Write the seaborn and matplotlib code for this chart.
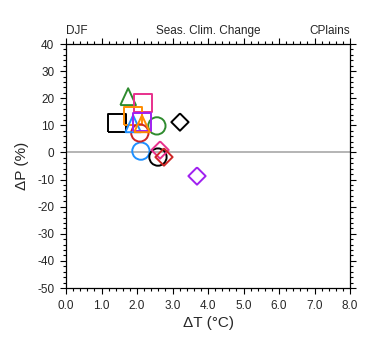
import numpy as np
import pandas as pd
import matplotlib
matplotlib.use("Agg")
import matplotlib.pyplot as plt
import seaborn as sns
from matplotlib.ticker import MultipleLocator, FormatStrFormatter

# one point per model: seasonal change in temperature and precipitation
models = ["m01", "m02", "m03", "m04", "m05", "m06", "m07", "m08",
          "m09", "m10", "m11", "m12", "m13", "m14", "m15"]
dT = [1.44, 1.75, 2.17, 1.89, 2.11, 2.59, 2.56, 2.08, 1.89, 2.14,
      2.14, 3.21, 2.65, 2.76, 3.69]
dP = [10.9, 20.5, 18.2, 13.4, 0.5, -1.7, 9.8, 7.2, 10.5, 11.2,
      10.5, 11.2, 0.9, -1.7, -8.7]
colors = ["black", "#2E8B2E", "#E8308C", "#FF8C00", "#1E90FF", "black",
          "#2E8B2E", "#CD2626", "#1E90FF", "#A020F0", "#FF8C00", "black",
          "#E8308C", "#CD2626", "#A020F0"]
shapes = ["square", "triangle", "square", "square", "circle", "circle",
          "circle", "circle", "triangle", "square", "triangle", "diamond",
          "diamond", "diamond", "diamond"]

# closed outlines (first vertex repeated so the stroke closes)
marker_paths = {
    "square": [(-1, -1), (1, -1), (1, 1), (-1, 1), (-1, -1)],
    "triangle": [(-0.9, -0.95), (0.9, -0.95), (0, 1), (-0.9, -0.95)],
    "diamond": [(0, 1), (1, 0), (0, -1), (-1, 0), (0, 1)],
    "circle": "o",
}

df = pd.DataFrame({"model": models, "dT": dT, "dP": dP, "shape": shapes})

sns.set_style("ticks")
plt.rcParams["font.family"] = ["Liberation Sans", "DejaVu Sans"]
plt.rcParams["axes.unicode_minus"] = False

fig = plt.figure(figsize=(3.8, 3.55), dpi=100)
ax = fig.add_axes([0.1737, 0.1887, 0.7474, 0.6873])

ax.axhline(0, color="#A8A8A8", lw=1.2, zorder=1)

sns.scatterplot(data=df, x="dT", y="dP", hue="model", style="model",
                palette=dict(zip(models, colors)),
                markers=dict(zip(models, [marker_paths[s] for s in shapes])),
                s=155, linewidth=1.4, legend=False, ax=ax, zorder=3)

# hollow markers: move the colour from the face to the edge
pts = ax.collections[-1]
fc = pts.get_facecolors()
pts.set_edgecolors(fc)
pts.set_facecolors("none")

ax.set_xlim(0, 8)
ax.set_ylim(-50, 40)
ax.xaxis.set_major_locator(MultipleLocator(1))
ax.xaxis.set_minor_locator(MultipleLocator(0.2))
ax.yaxis.set_major_locator(MultipleLocator(10))
ax.yaxis.set_minor_locator(MultipleLocator(2))
ax.xaxis.set_major_formatter(FormatStrFormatter("%.1f"))

ax.tick_params(which="both", direction="out", top=True, right=True,
               labeltop=False, labelright=False, color="black", width=0.8)
ax.tick_params(which="major", length=4.5, labelsize=8.5, pad=4)
ax.tick_params(which="minor", length=2.3)
for sp in ax.spines.values():
    sp.set_visible(True)
    sp.set_linewidth(0.9)
    sp.set_color("black")

ax.set_xlabel("ΔT (°C)", fontsize=11, labelpad=3)
ax.set_ylabel("ΔP (%)", fontsize=11, labelpad=6)

ax.set_title("DJF", loc="left", fontsize=8.5, pad=7)
ax.set_title("Seas. Clim. Change", loc="center", fontsize=8.5, pad=7)
ax.set_title("CPlains", loc="right", fontsize=8.5, pad=7)

fig.savefig("out.png", dpi=100)
